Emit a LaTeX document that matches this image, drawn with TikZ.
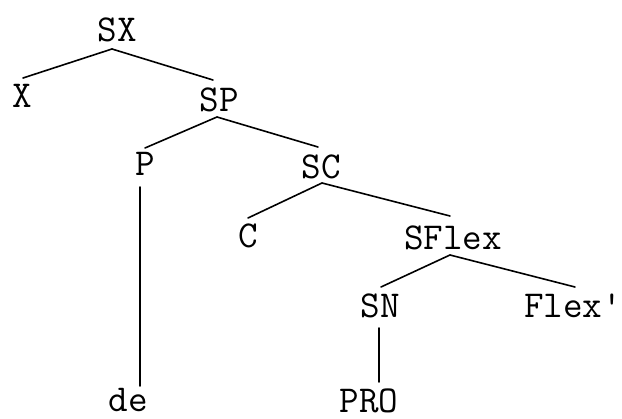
\documentclass[tikz,border=0pt]{standalone}
\usepackage{fontspec}
\begin{document}
\begin{tikzpicture}[x=1pt,y=-1pt,
  lbl/.style={font=\fontsize{38}{38}\selectfont\ttfamily, inner sep=0pt, outer sep=0pt},
  edge/.style={line width=1.6pt, line cap=round}]
\useasboundingbox (0,0) rectangle (622,419);
\node[lbl] (sx) at (117,30) {SX};
\node[lbl] (x) at (22,96) {X};
\node[lbl] (sp) at (219,100) {SP};
\node[lbl] (p) at (145,164) {P};
\node[lbl] (sc) at (321,167) {SC};
\node[lbl] (c) at (248,236) {C};
\node[lbl] (sflex) at (453,238) {SFlex};
\node[lbl] (sn) at (380,306) {SN};
\node[lbl, anchor=west] (flex) at (524,306) {Flex'};
\node[lbl] (de) at (128,400) {de};
\node[lbl] (pro) at (369,401) {PRO};
% edges
\draw[edge] ([shift={(-5,19)}]sx.center) -- ([shift={(1,-18)}]x.center);
\draw[edge] ([shift={(-5,19)}]sx.center) -- ([shift={(-6,-20)}]sp.center);
\draw[edge] ([shift={(-2,17)}]sp.center) -- ([shift={(0,-16)}]p.center);
\draw[edge] ([shift={(-2,17)}]sp.center) -- ([shift={(-3,-20)}]sc.center);
\draw[edge] ([shift={(1,16)}]sc.center) -- ([shift={(0,-18)}]c.center);
\draw[edge] ([shift={(1,16)}]sc.center) -- ([shift={(-3,-22)}]sflex.center);
\draw[edge] ([shift={(-3,17)}]sflex.center) -- ([shift={(1,-19)}]sn.center);
\draw[edge] ([shift={(-3,17)}]sflex.center) -- ([shift={(51,-19)}]flex.west);
\draw[edge] ([shift={(-5,23)}]p.center) -- ([shift={(12,-14)}]de.center);
\draw[edge] ([shift={(-1,22)}]sn.center) -- ([shift={(10,-19)}]pro.center);
\end{tikzpicture}
\end{document}
